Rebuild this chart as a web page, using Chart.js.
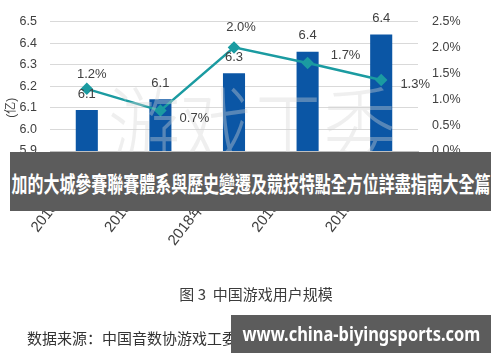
<!DOCTYPE html>
<html><head><meta charset="utf-8">
<script src="https://cdn.jsdelivr.net/npm/chart.js@4.4.1/dist/chart.umd.min.js"></script>
<style>
html,body{margin:0;padding:0;background:#fff;}
#wrap{position:relative;width:500px;height:362px;overflow:hidden;background:#fff;}
#c{position:absolute;left:0;top:0;}
.ov{position:absolute;white-space:nowrap;}
#cap{left:0;width:512px;top:285px;text-align:center;font:15px "Noto Sans CJK SC",sans-serif;color:#3c3c3c;line-height:18px;}
#src{left:27px;top:329px;font:15px "Noto Sans CJK SC",sans-serif;color:#333;line-height:18px;}
.banner{background:#5c5c5c;color:#fff;font-weight:bold;display:flex;align-items:center;justify-content:center;overflow:hidden;}
.banner span{display:inline-block;transform-origin:center center;}
#b1{left:10px;top:152px;width:481px;height:59px;font:bold 22px "Noto Sans CJK TC",sans-serif;}
#b2{left:231px;top:315px;width:260px;height:38px;font:bold 19px "Noto Sans","DejaVu Sans",sans-serif;}
</style></head><body>
<div id="wrap">
<canvas id="c" width="500" height="362"></canvas>
<div id="cap" class="ov">图 3&nbsp; 中国游戏用户规模</div>
<div id="src" class="ov">数据来源：中国音数协游戏工委（GPC）&amp;国际数据公司（IDC）</div>
<div id="b1" class="ov banner"><span data-w="479">加的大城參賽聯賽體系與歷史變遷及競技特點全方位詳盡指南大全篇</span></div>
<div id="b2" class="ov banner"><span data-w="238">www.china-biyingsports.com</span></div>
</div>
<script>
// ---- data ----
const categories = ["2018年3-6月", "2018年7-9月", "2018年10-12月", "2019年1-3月", "2019年3-6月"];
const userScale = [6.09, 6.14, 6.26, 6.36, 6.44];          // 亿
const userScaleLabels = ["6.1", "6.1", "6.3", "6.4", "6.4"];
const growthRate = [1.2, 0.78, 2.0, 1.7, 1.37];            // %
const growthRateLabels = ["1.2%", "0.7%", "2.0%", "1.7%", "1.3%"];
const leftTicks = [5.9, 6.0, 6.1, 6.2, 6.3, 6.4, 6.5];
const rightTicks = [0, 0.5, 1.0, 1.5, 2.0, 2.5];
const leftAxisTitle = "(亿)";
const watermarkText = "游戏工委";

// ---- style ----
const BAR = '#0b56a5', LINE = '#1b9ba1', TXT = '#404040';
const FONT = '"Liberation Sans","Noto Sans CJK SC",sans-serif';
const lineLabelOffsets = [[5,-14],[34,8],[7,-20],[38,-8],[34,4]];
const barLabelOffset = -16;

const watermarkPlugin = {
  id: 'wmark',
  afterDatasetsDraw(chart) {
    const ctx = chart.ctx;
    ctx.save();
    ctx.translate(252, 128);
    ctx.scale(0.8, 1);
    ctx.font = '300 90px "Noto Sans CJK SC",sans-serif';
    ctx.fillStyle = 'rgba(212,212,212,0.38)';
    ctx.textAlign = 'center';
    ctx.textBaseline = 'middle';
    ctx.fillText(watermarkText, 0, 0);
    ctx.restore();
  }
};

const labelPlugin = {
  id: 'vlabels',
  afterDatasetsDraw(chart) {
    const ctx = chart.ctx;
    ctx.save();
    ctx.font = '13px ' + FONT;
    ctx.fillStyle = TXT;
    ctx.textAlign = 'center';
    ctx.textBaseline = 'middle';
    chart.getDatasetMeta(1).data.forEach((el, i) => {
      ctx.fillText(userScaleLabels[i], el.x, el.y + barLabelOffset);
    });
    chart.getDatasetMeta(0).data.forEach((el, i) => {
      const o = lineLabelOffsets[i];
      ctx.fillText(growthRateLabels[i], el.x + o[0], el.y + o[1]);
    });
    // left axis unit title, placed beside the 6.1 tick
    const ys = chart.scales.y;
    ctx.translate(12, ys.getPixelForValue(6.1));
    ctx.rotate(-Math.PI / 2);
    ctx.font = '12px ' + FONT;
    ctx.fillText(leftAxisTitle, 0, 0);
    ctx.restore();
  }
};

new Chart(document.getElementById('c'), {
  data: {
    labels: categories,
    datasets: [
      { type: 'line', data: growthRate, yAxisID: 'y1', borderColor: LINE, backgroundColor: LINE,
        borderWidth: 2.5, pointStyle: 'rectRot', pointRadius: 4.5, pointBackgroundColor: LINE,
        pointBorderColor: LINE, tension: 0, order: 0 },
      { type: 'bar', data: userScale, yAxisID: 'y', backgroundColor: BAR,
        categoryPercentage: 1, barPercentage: 0.3, order: 1 }
    ]
  },
  options: {
    responsive: false, animation: false, devicePixelRatio: 1,
    layout: { padding: { top: 19, left: 0, right: 0, bottom: 0 } },
    plugins: { legend: { display: false }, tooltip: { enabled: false } },
    scales: {
      x: {
        offset: true,
        grid: { drawOnChartArea: false, drawTicks: true, tickLength: 5, offset: true, color: '#bfbfbf' },
        border: { display: true, color: '#bfbfbf' },
        ticks: { minRotation: 52, maxRotation: 52, autoSkip: false, padding: 2, color: TXT,
                 font: { family: FONT, size: 15 } },
        afterFit: s => { s.height = 211; }
      },
      y: {
        position: 'left', min: 5.9, max: 6.5,
        afterBuildTicks: s => { s.ticks = leftTicks.map(v => ({ value: v })); },
        grid: { color: '#d9d9d9', drawTicks: false },
        border: { display: false },
        ticks: { padding: 13, color: TXT, font: { family: FONT, size: 12.5 },
                 callback: v => v.toFixed(1) },
        afterFit: s => { s.width = 50; }
      },
      y1: {
        position: 'right', min: 0, max: 2.5,
        afterBuildTicks: s => { s.ticks = rightTicks.map(v => ({ value: v })); },
        grid: { drawOnChartArea: false, drawTicks: false },
        border: { display: false },
        ticks: { padding: 14, color: TXT, font: { family: FONT, size: 12.5 },
                 callback: v => v.toFixed(1) + '%' },
        afterFit: s => { s.width = 82; }
      }
    }
  },
  plugins: [watermarkPlugin, labelPlugin]
});

document.querySelectorAll('.banner span').forEach(sp => {
  const w = sp.offsetWidth, t = +sp.dataset.w;
  sp.style.transform = 'scaleX(' + (t / w) + ')';
});
</script>
</body></html>
